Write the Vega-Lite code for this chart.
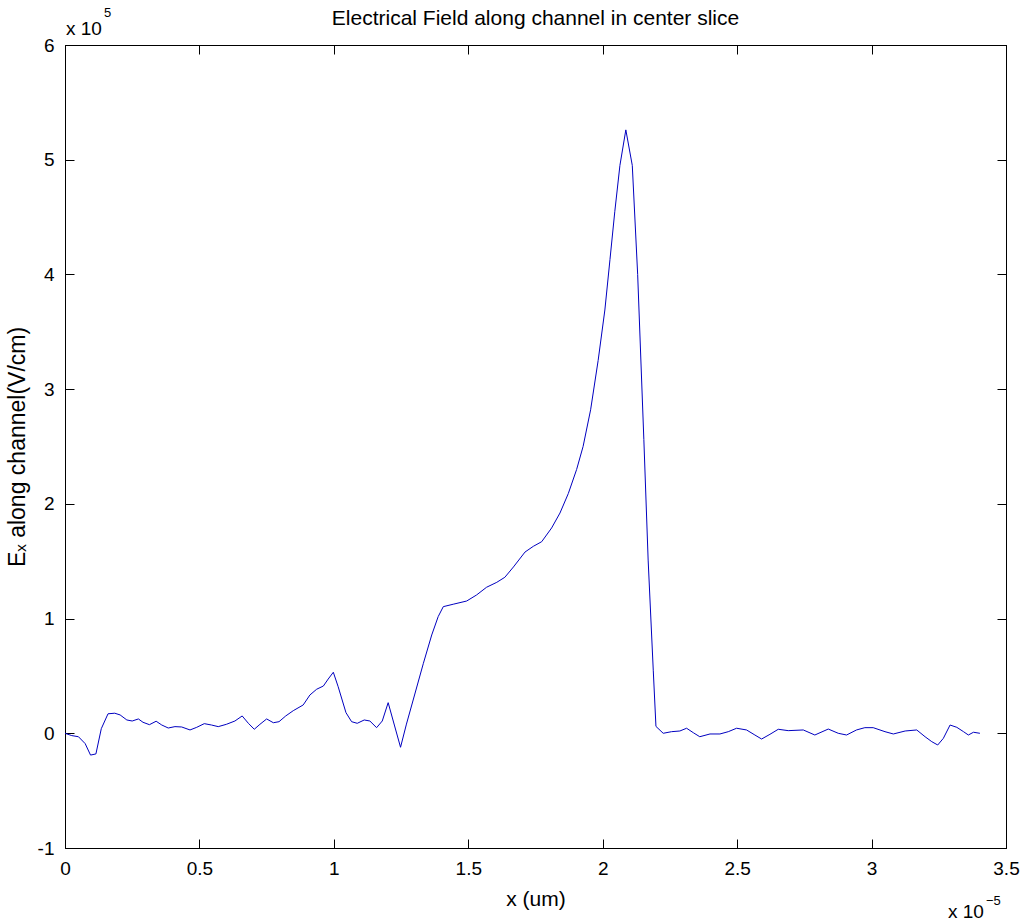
{
  "$schema": "https://vega.github.io/schema/vega-lite/v6.json",
  "width": 941,
  "height": 803,
  "autosize": {"type": "none"},
  "padding": {"left": 65, "top": 45, "right": 18, "bottom": 75},
  "background": "white",
  "config": {
    "font": "Liberation Sans",
    "view": {"stroke": "black", "strokeWidth": 1},
    "axis": {
      "grid": false,
      "domainColor": "black",
      "tickColor": "black",
      "tickSize": -9,
      "labelColor": "black",
      "labelFont": "Liberation Sans",
      "labelFontSize": 19,
      "titleFont": "Liberation Sans",
      "titleFontSize": 21,
      "titleFontWeight": "normal",
      "titleColor": "black",
      "labelExpr": "'' + datum.value"
    }
  },
  "title": {
    "text": "Electrical Field along channel in center slice",
    "font": "Liberation Sans",
    "fontSize": 21,
    "fontWeight": "normal",
    "color": "black",
    "offset": 0,
    "dy": 22
  },
  "data": {
    "values": [
      {"x": 0.0, "y": 0.0},
      {"x": 0.025, "y": -0.02},
      {"x": 0.05, "y": -0.03},
      {"x": 0.075, "y": -0.09},
      {"x": 0.095, "y": -0.19},
      {"x": 0.115, "y": -0.18},
      {"x": 0.135, "y": 0.04},
      {"x": 0.16, "y": 0.17},
      {"x": 0.185, "y": 0.175},
      {"x": 0.205, "y": 0.16},
      {"x": 0.23, "y": 0.116},
      {"x": 0.25, "y": 0.107},
      {"x": 0.273, "y": 0.125},
      {"x": 0.29, "y": 0.096},
      {"x": 0.314, "y": 0.075},
      {"x": 0.339, "y": 0.105},
      {"x": 0.36, "y": 0.072},
      {"x": 0.384, "y": 0.046},
      {"x": 0.409, "y": 0.058},
      {"x": 0.434, "y": 0.055},
      {"x": 0.465, "y": 0.029},
      {"x": 0.49, "y": 0.052},
      {"x": 0.518, "y": 0.084},
      {"x": 0.545, "y": 0.072},
      {"x": 0.57, "y": 0.058},
      {"x": 0.6, "y": 0.078},
      {"x": 0.632, "y": 0.107},
      {"x": 0.659, "y": 0.151},
      {"x": 0.682, "y": 0.087},
      {"x": 0.704, "y": 0.035},
      {"x": 0.725, "y": 0.078},
      {"x": 0.75, "y": 0.125},
      {"x": 0.775, "y": 0.092},
      {"x": 0.796, "y": 0.101},
      {"x": 0.821, "y": 0.151},
      {"x": 0.849, "y": 0.197},
      {"x": 0.886, "y": 0.247},
      {"x": 0.911, "y": 0.334},
      {"x": 0.936, "y": 0.384},
      {"x": 0.961, "y": 0.412},
      {"x": 0.979, "y": 0.473},
      {"x": 0.998, "y": 0.532},
      {"x": 1.016, "y": 0.406},
      {"x": 1.045, "y": 0.18},
      {"x": 1.066, "y": 0.101},
      {"x": 1.087, "y": 0.087},
      {"x": 1.113, "y": 0.116},
      {"x": 1.134, "y": 0.107},
      {"x": 1.159, "y": 0.049},
      {"x": 1.18, "y": 0.107},
      {"x": 1.202, "y": 0.267},
      {"x": 1.225, "y": 0.072},
      {"x": 1.248, "y": -0.122},
      {"x": 1.27, "y": 0.08},
      {"x": 1.295, "y": 0.29},
      {"x": 1.333, "y": 0.61},
      {"x": 1.364, "y": 0.857},
      {"x": 1.388, "y": 1.017},
      {"x": 1.407, "y": 1.104},
      {"x": 1.444, "y": 1.125},
      {"x": 1.494, "y": 1.153},
      {"x": 1.531, "y": 1.206},
      {"x": 1.568, "y": 1.273},
      {"x": 1.606, "y": 1.316},
      {"x": 1.636, "y": 1.36},
      {"x": 1.668, "y": 1.45},
      {"x": 1.711, "y": 1.58},
      {"x": 1.742, "y": 1.63},
      {"x": 1.773, "y": 1.67},
      {"x": 1.81, "y": 1.79},
      {"x": 1.841, "y": 1.92},
      {"x": 1.872, "y": 2.09},
      {"x": 1.903, "y": 2.3},
      {"x": 1.927, "y": 2.5},
      {"x": 1.955, "y": 2.82},
      {"x": 1.983, "y": 3.25},
      {"x": 2.008, "y": 3.69},
      {"x": 2.027, "y": 4.13},
      {"x": 2.045, "y": 4.55},
      {"x": 2.064, "y": 4.95},
      {"x": 2.086, "y": 5.26},
      {"x": 2.11, "y": 4.95},
      {"x": 2.13, "y": 4.0},
      {"x": 2.153, "y": 2.56},
      {"x": 2.169, "y": 1.51},
      {"x": 2.188, "y": 0.55},
      {"x": 2.198, "y": 0.06},
      {"x": 2.225, "y": 0.0},
      {"x": 2.256, "y": 0.014},
      {"x": 2.287, "y": 0.02},
      {"x": 2.312, "y": 0.044},
      {"x": 2.337, "y": 0.005},
      {"x": 2.361, "y": -0.03},
      {"x": 2.399, "y": -0.006},
      {"x": 2.436, "y": -0.006},
      {"x": 2.467, "y": 0.014},
      {"x": 2.498, "y": 0.044},
      {"x": 2.535, "y": 0.029},
      {"x": 2.566, "y": -0.015},
      {"x": 2.591, "y": -0.05},
      {"x": 2.622, "y": -0.009},
      {"x": 2.653, "y": 0.035},
      {"x": 2.69, "y": 0.023},
      {"x": 2.746, "y": 0.029},
      {"x": 2.789, "y": -0.015},
      {"x": 2.839, "y": 0.037},
      {"x": 2.876, "y": 0.0},
      {"x": 2.907, "y": -0.015},
      {"x": 2.944, "y": 0.029},
      {"x": 2.975, "y": 0.049},
      {"x": 3.006, "y": 0.049},
      {"x": 3.05, "y": 0.014},
      {"x": 3.081, "y": -0.006},
      {"x": 3.125, "y": 0.02},
      {"x": 3.168, "y": 0.029},
      {"x": 3.199, "y": -0.03},
      {"x": 3.224, "y": -0.073},
      {"x": 3.246, "y": -0.102},
      {"x": 3.267, "y": -0.044},
      {"x": 3.292, "y": 0.072},
      {"x": 3.317, "y": 0.052},
      {"x": 3.342, "y": 0.014},
      {"x": 3.36, "y": -0.015},
      {"x": 3.379, "y": 0.009},
      {"x": 3.403, "y": 0.0}
    ]
  },
  "layer": [
    {
      "mark": {"type": "line", "color": "#0000c0", "strokeWidth": 1},
      "encoding": {
        "x": {
          "field": "x", "type": "quantitative",
          "scale": {"domain": [0, 3.5], "nice": false, "zero": false},
          "axis": {"values": [0, 0.5, 1, 1.5, 2, 2.5, 3, 3.5], "title": "x (um)", "labelPadding": 20, "titlePadding": 10, "labelFlush": false}
        },
        "y": {
          "field": "y", "type": "quantitative",
          "scale": {"domain": [-1, 6], "nice": false, "zero": false},
          "axis": {"values": [-1, 0, 1, 2, 3, 4, 5, 6], "title": "Eₓ along channel(V/cm)", "titleFontSize": 23, "labelPadding": 20, "titlePadding": 8}
        }
      }
    },
    {
      "mark": {"type": "line", "strokeOpacity": 0},
      "encoding": {
        "x": {
          "field": "x", "type": "quantitative",
          "scale": {"domain": [0, 3.5], "nice": false, "zero": false},
          "axis": {"orient": "top", "values": [0, 0.5, 1, 1.5, 2, 2.5, 3, 3.5], "labels": false, "title": null}
        },
        "y": {
          "field": "y", "type": "quantitative",
          "scale": {"domain": [-1, 6], "nice": false, "zero": false},
          "axis": {"orient": "right", "values": [-1, 0, 1, 2, 3, 4, 5, 6], "labels": false, "title": null}
        }
      }
    },
    {
      "data": {"values": [{"label": "x 10", "px": 0, "py": 6}]},
      "mark": {"type": "text", "align": "left", "baseline": "alphabetic", "dx": 1, "dy": -10, "fontSize": 19, "font": "Liberation Sans", "color": "black"},
      "encoding": {"text": {"field": "label"}, "x": {"field": "px", "type": "quantitative", "axis": null}, "y": {"field": "py", "type": "quantitative", "axis": null}}
    },
    {
      "data": {"values": [{"label": "5", "px": 0, "py": 6}]},
      "mark": {"type": "text", "align": "left", "baseline": "alphabetic", "dx": 39, "dy": -28, "fontSize": 13, "font": "Liberation Sans", "color": "black"},
      "encoding": {"text": {"field": "label"}, "x": {"field": "px", "type": "quantitative", "axis": null}, "y": {"field": "py", "type": "quantitative", "axis": null}}
    },
    {
      "data": {"values": [{"label": "x 10", "px": 3.5, "py": -1}]},
      "mark": {"type": "text", "align": "left", "baseline": "alphabetic", "dx": -58, "dy": 70, "fontSize": 19, "font": "Liberation Sans", "color": "black"},
      "encoding": {"text": {"field": "label"}, "x": {"field": "px", "type": "quantitative", "axis": null}, "y": {"field": "py", "type": "quantitative", "axis": null}}
    },
    {
      "data": {"values": [{"label": "−5", "px": 3.5, "py": -1}]},
      "mark": {"type": "text", "align": "left", "baseline": "alphabetic", "dx": -20, "dy": 57, "fontSize": 13, "font": "Liberation Sans", "color": "black"},
      "encoding": {"text": {"field": "label"}, "x": {"field": "px", "type": "quantitative", "axis": null}, "y": {"field": "py", "type": "quantitative", "axis": null}}
    }
  ],
  "resolve": {"axis": {"x": "independent", "y": "independent"}}
}
